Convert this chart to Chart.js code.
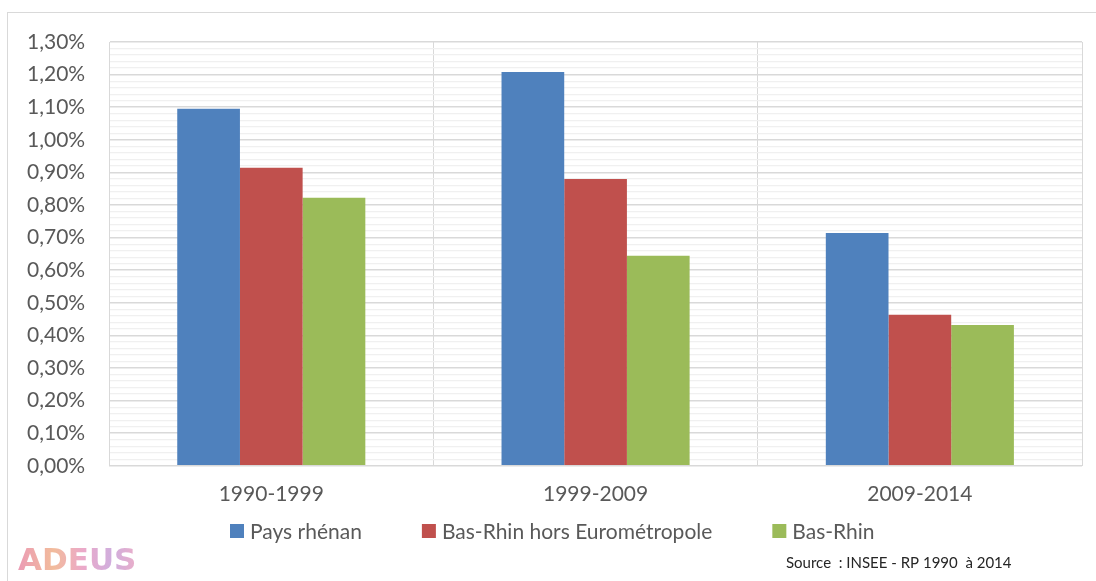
<!DOCTYPE html>
<html>
<head>
<meta charset="utf-8">
<script src="https://cdn.jsdelivr.net/npm/chart.js@4/dist/chart.umd.min.js"></script>
<style>
  html, body { margin: 0; padding: 0; background: #fff; }
  #wrap { position: relative; width: 1096px; height: 581px; }
  #frame { position: absolute; left: 7px; top: 12px; width: 1100px; height: 600px; border: 1px solid #d9d9d9; box-sizing: border-box; }
  canvas { position: absolute; left: 0; top: 0; }
</style>
</head>
<body>
<div id="wrap">
  <div id="frame"></div>
  <canvas id="myChart" width="1096" height="581"></canvas>
</div>
<script>
'use strict';

// ====================== DATA ======================//
let periods = ['1990-1999', '1999-2009', '2009-2014'];
let seriesNames = ['Pays rhénan', 'Bas-Rhin hors Eurométropole', 'Bas-Rhin'];
let paysRhenan = [1.095, 1.208, 0.714];
let basRhinHorsEuro = [0.914, 0.88, 0.463];
let basRhin = [0.822, 0.644, 0.432];
let seriesColors = ['#4f81bd', '#c0504d', '#9bbb59'];
let sourceText = 'Source  : INSEE - RP 1990  à 2014';

let fontFamily = 'Lato, "Open Sans", sans-serif';
let textGrey = '#595959';

// legend (Excel style, wide gaps), logo and source drawn by hand
let footerPlugin = {
  id: 'footer',
  afterDraw(chart) {
    let ctx = chart.ctx;
    let sets = chart.data.datasets;
    ctx.save();
    ctx.textBaseline = 'middle';

    // legend
    ctx.font = '21px ' + fontFamily;
    let box = 14, gapText = 6, gapItem = 60;
    let x = 230;
    let y = 531;
    for (let i = 0; i < sets.length; i++) {
      ctx.fillStyle = sets[i].backgroundColor;
      ctx.fillRect(x, y - box / 2, box, box);
      ctx.fillStyle = textGrey;
      ctx.fillText(sets[i].label, x + box + gapText, y + 1);
      x += box + gapText + ctx.measureText(sets[i].label).width + gapItem;
    }

    // source
    ctx.font = '15px ' + fontFamily;
    ctx.fillStyle = '#262626';
    ctx.fillText(sourceText, 786, 563);

    // ADEUS logo, pastel gradient letters
    ctx.font = 'bold 31px "DejaVu Sans", sans-serif';
    let grad = ctx.createLinearGradient(18, 0, 136, 0);
    grad.addColorStop(0, '#e88aa8');
    grad.addColorStop(0.3, '#f0b08a');
    grad.addColorStop(0.55, '#e89ac0');
    grad.addColorStop(0.8, '#c7a0d8');
    grad.addColorStop(1, '#e6a0c0');
    ctx.fillStyle = grad;
    ctx.globalAlpha = 0.85;
    ctx.fillText('ADEUS', 18, 562);
    ctx.restore();
  }
};

let ctx = document.getElementById('myChart').getContext('2d');
let myChart = new Chart(ctx, {
  type: 'bar',
  data: {
    labels: periods,
    datasets: [
      { label: seriesNames[0], data: paysRhenan, backgroundColor: seriesColors[0] },
      { label: seriesNames[1], data: basRhinHorsEuro, backgroundColor: seriesColors[1] },
      { label: seriesNames[2], data: basRhin, backgroundColor: seriesColors[2] }
    ]
  },
  options: {
    responsive: false,
    animation: false,
    layout: { padding: { left: 3, right: 14, top: 42, bottom: 58 } },
    datasets: {
      bar: { categoryPercentage: 0.58, barPercentage: 1.0, borderWidth: 0 }
    },
    plugins: {
      tooltip: { enabled: false },
      legend: { display: false }
    },
    scales: {
      x: {
        grid: { offset: true, color: '#d9d9d9', drawTicks: false },
        border: { color: '#d9d9d9' },
        ticks: { color: textGrey, padding: 16, font: { family: fontFamily, size: 21 } }
      },
      y: {
        min: 0,
        max: 1.3,
        grid: {
          drawTicks: false,
          color: (c) => (c.index % 5 === 0 ? '#d9d9d9' : '#f0f0f0'),
          lineWidth: (c) => (c.index % 5 === 0 ? 1.5 : 1.2)
        },
        border: { color: '#d9d9d9' },
        ticks: {
          stepSize: 0.02,
          maxTicksLimit: 100,
          autoSkip: false,
          padding: 24,
          color: textGrey,
          font: { family: fontFamily, size: 21 },
          callback: function (value, index) {
            if (index % 5 !== 0) return '';
            return value.toFixed(2).replace('.', ',') + '%';
          }
        }
      }
    }
  },
  plugins: [footerPlugin]
});
</script>
</body>
</html>
